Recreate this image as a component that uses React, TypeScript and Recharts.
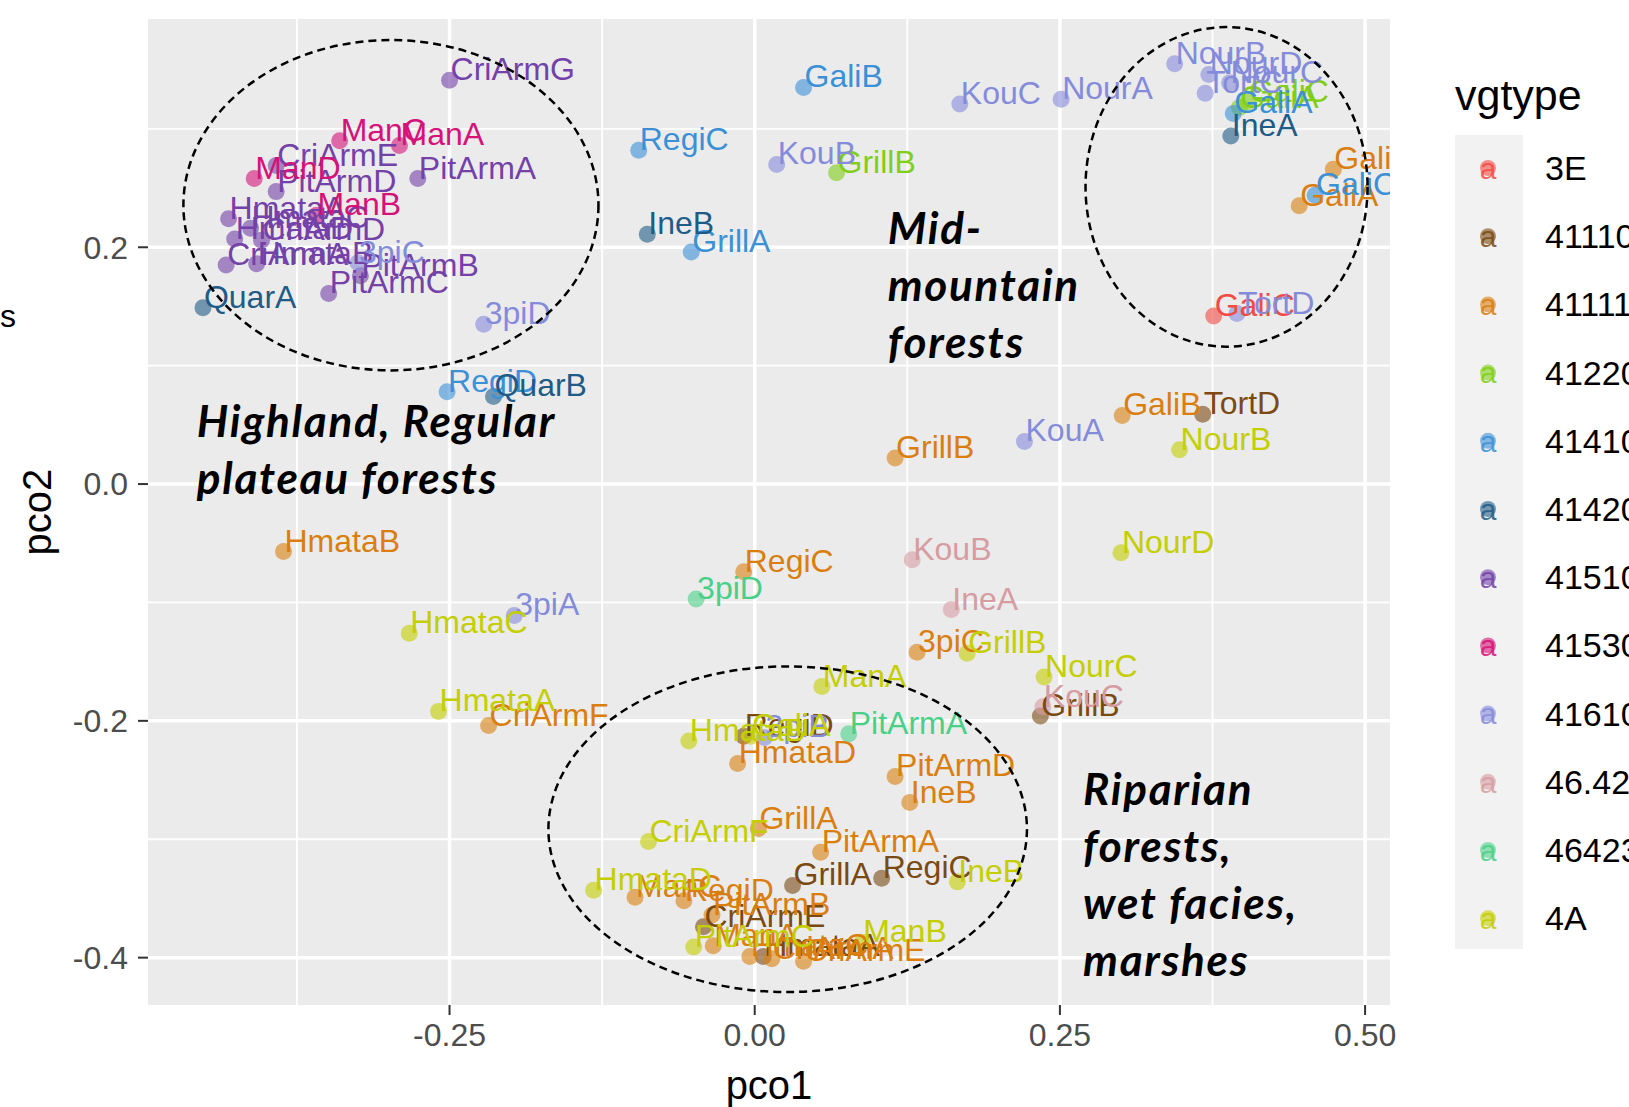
import React from 'react';
import { ScatterChart, Scatter, XAxis, YAxis, CartesianGrid, ReferenceLine, ReferenceArea } from 'recharts';

// vegetation types and their colours
const vgtypes = ['3E', '41110', '41111', '41220', '41410', '41420', '41510', '41530', '41610', '46.42', '46423', '4A'];
const vgColors = ['#F24B45', '#7A4A12', '#D97E0F', '#80CF17', '#3B90D6', '#1F5B87', '#7341A8', '#D61279', '#858BDB', '#D69CA1', '#49D087', '#C4CE00'];

// sites per vegetation type (pco1, pco2)
const type3E = [{ site: 'GaliC', pco1: 0.376, pco2: 0.142 }];
const type41110 = [
  { site: 'TortD', pco1: 0.367, pco2: 0.059 },
  { site: 'GrillB', pco1: 0.234, pco2: -0.196 },
  { site: 'RegiD', pco1: -0.009, pco2: -0.213 },
  { site: 'GrillA', pco1: 0.031, pco2: -0.339 },
  { site: 'RegiC', pco1: 0.104, pco2: -0.333 },
  { site: 'CriArmE', pco1: -0.042, pco2: -0.374 },
  { site: 'HmataA', pco1: 0.007, pco2: -0.399 },
];
const type41111 = [
  { site: 'GaliD', pco1: 0.474, pco2: 0.266 },
  { site: 'GaliA', pco1: 0.446, pco2: 0.235 },
  { site: 'GaliB', pco1: 0.301, pco2: 0.058 },
  { site: 'GrillB', pco1: 0.115, pco2: 0.022 },
  { site: 'HmataB', pco1: -0.386, pco2: -0.057 },
  { site: 'RegiC', pco1: -0.009, pco2: -0.074 },
  { site: '3piC', pco1: 0.133, pco2: -0.142 },
  { site: 'CriArmF', pco1: -0.218, pco2: -0.204 },
  { site: 'HmataD', pco1: -0.014, pco2: -0.236 },
  { site: 'PitArmD', pco1: 0.115, pco2: -0.247 },
  { site: 'IneB', pco1: 0.127, pco2: -0.269 },
  { site: 'GrillA', pco1: 0.003, pco2: -0.291 },
  { site: 'PitArmA', pco1: 0.054, pco2: -0.311 },
  { site: 'ManC', pco1: -0.098, pco2: -0.349 },
  { site: 'RegiD', pco1: -0.058, pco2: -0.352 },
  { site: 'PitArmB', pco1: -0.035, pco2: -0.364 },
  { site: 'ManA', pco1: -0.034, pco2: -0.39 },
  { site: 'HmataC', pco1: -0.004, pco2: -0.399 },
  { site: 'CriArmA', pco1: 0.014, pco2: -0.401 },
  { site: 'CriArmE', pco1: 0.04, pco2: -0.403 },
];
const type41220 = [
  { site: 'GrillB', pco1: 0.067, pco2: 0.263 },
  { site: 'GaliA', pco1: 0.397, pco2: 0.318 },
  { site: 'GaliC', pco1: 0.404, pco2: 0.323 },
];
const type41410 = [
  { site: 'GaliB', pco1: 0.04, pco2: 0.335 },
  { site: 'RegiC', pco1: -0.095, pco2: 0.282 },
  { site: 'GrillA', pco1: -0.052, pco2: 0.196 },
  { site: 'RegiD', pco1: -0.252, pco2: 0.078 },
  { site: 'GaliA', pco1: 0.392, pco2: 0.313 },
  { site: 'GaliC', pco1: 0.459, pco2: 0.244 },
];
const type41420 = [
  { site: 'IneB', pco1: -0.088, pco2: 0.211 },
  { site: 'QuarA', pco1: -0.452, pco2: 0.149 },
  { site: 'QuarB', pco1: -0.214, pco2: 0.074 },
  { site: 'IneA', pco1: 0.39, pco2: 0.294 },
];
const type41510 = [
  { site: 'CriArmG', pco1: -0.25, pco2: 0.341 },
  { site: 'CriArmE', pco1: -0.392, pco2: 0.269 },
  { site: 'PitArmD', pco1: -0.392, pco2: 0.247 },
  { site: 'PitArmA', pco1: -0.276, pco2: 0.258 },
  { site: 'HmataA', pco1: -0.431, pco2: 0.224 },
  { site: 'HmataC', pco1: -0.413, pco2: 0.216 },
  { site: 'HmataD', pco1: -0.426, pco2: 0.207 },
  { site: 'CriArmD', pco1: -0.404, pco2: 0.206 },
  { site: 'CriArmA', pco1: -0.433, pco2: 0.185 },
  { site: 'HmataB', pco1: -0.408, pco2: 0.186 },
  { site: 'PitArmB', pco1: -0.323, pco2: 0.176 },
  { site: 'PitArmC', pco1: -0.349, pco2: 0.161 },
];
const type41530 = [
  { site: 'ManC', pco1: -0.34, pco2: 0.29 },
  { site: 'ManA', pco1: -0.291, pco2: 0.286 },
  { site: 'ManD', pco1: -0.41, pco2: 0.258 },
  { site: 'ManB', pco1: -0.359, pco2: 0.227 },
];
const type41610 = [
  { site: 'KouC', pco1: 0.168, pco2: 0.321 },
  { site: 'NourA', pco1: 0.251, pco2: 0.325 },
  { site: 'NourB', pco1: 0.344, pco2: 0.355 },
  { site: 'NourD', pco1: 0.372, pco2: 0.346 },
  { site: 'TortC', pco1: 0.369, pco2: 0.33 },
  { site: 'NourC', pco1: 0.389, pco2: 0.339 },
  { site: 'TortD', pco1: 0.395, pco2: 0.144 },
  { site: 'KouB', pco1: 0.018, pco2: 0.27 },
  { site: 'KouA', pco1: 0.221, pco2: 0.036 },
  { site: '3piC', pco1: -0.325, pco2: 0.187 },
  { site: '3piD', pco1: -0.222, pco2: 0.135 },
  { site: '3piA', pco1: -0.197, pco2: -0.111 },
  { site: '3piB', pco1: 0.008, pco2: -0.214 },
];
const type4642 = [
  { site: 'KouB', pco1: 0.129, pco2: -0.064 },
  { site: 'IneA', pco1: 0.161, pco2: -0.106 },
  { site: 'KouC', pco1: 0.236, pco2: -0.188 },
];
const type46423 = [
  { site: '3piD', pco1: -0.048, pco2: -0.097 },
  { site: 'PitArmA', pco1: 0.077, pco2: -0.211 },
];
const type4A = [
  { site: 'NourB', pco1: 0.348, pco2: 0.029 },
  { site: 'NourD', pco1: 0.3, pco2: -0.058 },
  { site: 'NourC', pco1: 0.237, pco2: -0.163 },
  { site: 'GrillB', pco1: 0.174, pco2: -0.143 },
  { site: 'ManA', pco1: 0.055, pco2: -0.171 },
  { site: 'HmataC', pco1: -0.283, pco2: -0.126 },
  { site: 'HmataA', pco1: -0.259, pco2: -0.192 },
  { site: 'HmataB', pco1: -0.054, pco2: -0.217 },
  { site: 'GaliA', pco1: -0.003, pco2: -0.213 },
  { site: 'CriArmF', pco1: -0.087, pco2: -0.302 },
  { site: 'IneB', pco1: 0.166, pco2: -0.336 },
  { site: 'HmataD', pco1: -0.132, pco2: -0.343 },
  { site: 'PitArmC', pco1: -0.05, pco2: -0.391 },
  { site: 'ManB', pco1: 0.088, pco2: -0.387 },
];

const groups = [type3E, type41110, type41111, type41220, type41410, type41420, type41510, type41530, type41610, type4642, type46423, type4A];

// axis ticks and grid
const xTicks = [-0.25, 0, 0.25, 0.5];
const yTicks = [-0.4, -0.2, 0, 0.2];
const xMinor = [-0.375, -0.125, 0.125, 0.375];
const yMinor = [-0.3, -0.1, 0.1, 0.3];

// dashed ellipses around the groups (data units)
const clusters = [
  { x1: -0.468, x2: -0.128, y1: 0.096, y2: 0.375 },
  { x1: 0.271, x2: 0.502, y1: 0.116, y2: 0.386 },
  { x1: -0.169, x2: 0.223, y1: -0.429, y2: -0.154 },
];

// group annotations
const notes = [
  { pco1: -0.457, pco2: 0.04, lines: ['Highland, Regular', 'plateau forests'] },
  { pco1: 0.109, pco2: 0.203, lines: ['Mid-', 'mountain', 'forests'] },
  { pco1: 0.269, pco2: -0.271, lines: ['Riparian', 'forests,', 'wet facies,', 'marshes'] },
];

const FONT = '"Liberation Sans", Arial, Helvetica, sans-serif';

const makeDot = (color: string) => (p: any) => (
  <circle cx={p.cx} cy={p.cy} r={8.5} fill={color} fillOpacity={0.6} />
);

const makeLabel = (color: string) => (p: any) => (
  <text x={p.cx + 1} y={p.cy} fill={color} fontSize={32} fontFamily={FONT}>
    {p.payload.site}
  </text>
);

const NoteShape = (p: any) => (
  <text
    x={p.cx}
    y={p.cy}
    fill="#000"
    fontSize={44}
    letterSpacing={1.7}
    fontWeight={700}
    fontStyle="italic"
    fontFamily="Lato, 'Open Sans', sans-serif"
  >
    {p.payload.lines.map((l: string, i: number) => (
      <tspan key={i} x={p.cx} dy={i === 0 ? 0 : 57}>{l}</tspan>
    ))}
  </text>
);

const EllipseShape = (p: any) => (
  <ellipse
    cx={p.x + p.width / 2}
    cy={p.y + p.height / 2}
    rx={p.width / 2}
    ry={p.height / 2}
    fill="none"
    stroke="#000"
    strokeWidth={2.5}
    strokeDasharray="8 5"
  />
);

export default function App() {
  return (
    <div style={{ position: 'relative', width: 1629, height: 1107, overflow: 'hidden', background: '#fff', fontFamily: FONT }}>
      <style>{'body{margin:0}'}</style>
      <ScatterChart width={1629} height={1107} margin={{ top: 19, right: 239, bottom: 0, left: 0 }}>
        <CartesianGrid fill="#EBEBEB" horizontal={false} vertical={false} />
        <XAxis
          type="number"
          dataKey="pco1"
          domain={[-0.497, 0.5204]}
          ticks={xTicks}
          tickFormatter={(v: number) => v.toFixed(2)}
          allowDataOverflow
          axisLine={false}
          tickLine={{ stroke: '#333', strokeWidth: 2 }}
          tickSize={10}
          tickMargin={8}
          height={102}
          tick={{ fill: '#4D4D4D', fontSize: 32, fontFamily: FONT }}
        />
        <YAxis
          type="number"
          dataKey="pco2"
          domain={[-0.44, 0.3928]}
          ticks={yTicks}
          tickFormatter={(v: number) => v.toFixed(1)}
          allowDataOverflow
          axisLine={false}
          tickLine={{ stroke: '#333', strokeWidth: 2 }}
          tickSize={10}
          tickMargin={10}
          width={148}
          tick={{ fill: '#4D4D4D', fontSize: 32, fontFamily: FONT }}
        />
        {xMinor.map((v) => (
          <ReferenceLine key={'xm' + v} x={v} stroke="#fff" strokeWidth={1.8} />
        ))}
        {yMinor.map((v) => (
          <ReferenceLine key={'ym' + v} y={v} stroke="#fff" strokeWidth={1.8} />
        ))}
        {xTicks.map((v) => (
          <ReferenceLine key={'xM' + v} x={v} stroke="#fff" strokeWidth={3.5} />
        ))}
        {yTicks.map((v) => (
          <ReferenceLine key={'yM' + v} y={v} stroke="#fff" strokeWidth={3.5} />
        ))}
        {groups.map((g, i) => (
          <Scatter key={'p' + i} name={vgtypes[i]} data={g} shape={makeDot(vgColors[i])} isAnimationActive={false} />
        ))}
        {groups.map((g, i) => (
          <Scatter key={'l' + i} data={g} shape={makeLabel(vgColors[i])} isAnimationActive={false} />
        ))}
        <Scatter data={notes} shape={NoteShape} isAnimationActive={false} />
        {clusters.map((c, i) => (
          <ReferenceArea key={'c' + i} x1={c.x1} x2={c.x2} y1={c.y1} y2={c.y2} ifOverflow="visible" shape={EllipseShape} zIndex={700} />
        ))}
      </ScatterChart>

      {/* axis titles */}
      <div style={{ position: 'absolute', left: 37, top: 512, transform: 'translate(-50%, -50%) rotate(-90deg)', fontSize: 40, lineHeight: '46px', whiteSpace: 'nowrap' }}>
        pco2
      </div>
      <div style={{ position: 'absolute', left: 769, top: 1062, transform: 'translateX(-50%)', fontSize: 40, lineHeight: '46px' }}>
        pco1
      </div>
      <div style={{ position: 'absolute', left: 0, top: 298, fontSize: 32, lineHeight: '36px' }}>s</div>

      {/* legend */}
      <div style={{ position: 'absolute', left: 1455, top: 71, fontSize: 43, lineHeight: '48px' }}>vgtype</div>
      <svg style={{ position: 'absolute', left: 1455, top: 135 }} width={68} height={814}>
        <rect x={0} y={0} width={68} height={814} fill="#F2F2F2" />
        {vgtypes.map((t, i) => (
          <g key={t}>
            <circle cx={33} cy={33 + i * 68.2} r={8} fill={vgColors[i]} fillOpacity={0.6} />
            <text x={33} y={33 + i * 68.2} dy="0.36em" textAnchor="middle" fontSize={30} fill={vgColors[i]} fillOpacity={0.85} fontFamily={FONT}>
              a
            </text>
          </g>
        ))}
      </svg>
      {vgtypes.map((t, i) => (
        <div key={t} style={{ position: 'absolute', left: 1545, top: 168 - 17 + i * 68.2, fontSize: 34, lineHeight: '34px', whiteSpace: 'nowrap' }}>
          {t}
        </div>
      ))}
    </div>
  );
}
